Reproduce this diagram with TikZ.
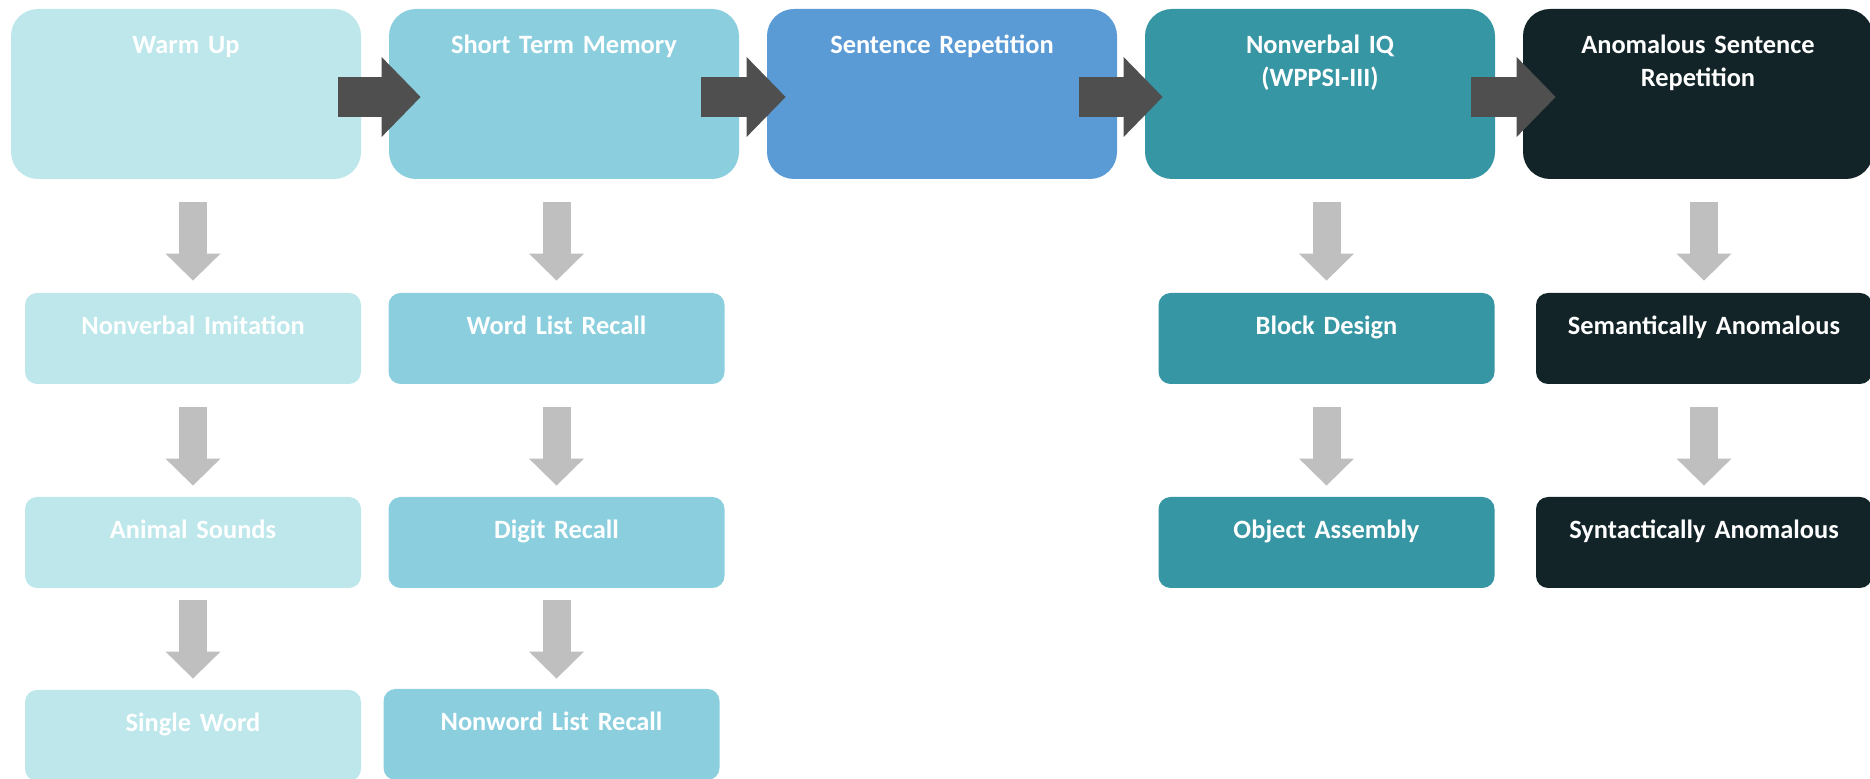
\documentclass[tikz,border=0pt]{standalone}
\usepackage{fontspec}
\setmainfont{Carlito}
\usetikzlibrary{arrows.meta}
\usetikzlibrary{calc}
\definecolor{WarmTint}{HTML}{BDE7EA}
\definecolor{MemoryBlue}{HTML}{8BCFDF}
\definecolor{SentenceBlue}{HTML}{5B9BD5}
\definecolor{IQTeal}{HTML}{3796A3}
\definecolor{AnomDark}{HTML}{122428}
\definecolor{ArrowDark}{HTML}{4F4F4F}
\definecolor{ArrowGrey}{HTML}{BFBFBF}
\tikzset{
  chart style/.style={
    x=0.5pt, y=-0.5pt,
    font=\fontsize{13.2}{16.5}\selectfont\bfseries,
  },
  stage/.style={
    fill=#1, text=white,
    rounded corners=13.5pt,
    inner sep=0pt,
    text width=175pt, align=center,
    text height=22.5pt, text depth=62.5pt,
  },
  task/.style={
    fill=#1, text=white,
    rounded corners=6pt,
    inner sep=0pt,
    text width=168pt, align=center,
    text height=21pt, text depth=24.5pt,
  },
  flow arrow/.style={
    draw=ArrowDark, line width=20pt,
    -{Triangle[length=19.5pt,width=40pt,line width=0pt]},
  },
  step arrow/.style={
    draw=ArrowGrey, line width=14pt,
    -{Triangle[length=13.5pt,width=27.5pt,line width=0pt]},
  },
}

\begin{document}
\begin{tikzpicture}[chart style]
  \useasboundingbox (0,0) rectangle (1870,779);
  % stages
  \node[stage=WarmTint]     (warm) at (186,94)  {Warm Up};
  \node[stage=MemoryBlue]   (stm)  at (564,94)  {Short Term Memory};
  \node[stage=SentenceBlue] (sent) at (942,94)  {Sentence Repetition};
  \node[stage=IQTeal]       (nviq) at (1320,94) {Nonverbal IQ\\(WPPSI-III)};
  \node[stage=AnomDark]     (anom) at (1698,94) {Anomalous Sentence\\Repetition};
  % tasks
  \node[task=WarmTint]   (imit)     at (193,338.5)    {Nonverbal Imitation};
  \node[task=WarmTint]   (animal)   at (193,542.5)    {Animal Sounds};
  \node[task=WarmTint]   (single)   at (193,735.5)    {Single Word};
  \node[task=MemoryBlue] (wordlist) at (556.5,338.5)  {Word List Recall};
  \node[task=MemoryBlue] (digit)    at (556.5,542.5)  {Digit Recall};
  \node[task=MemoryBlue] (nonword)  at (551.5,734.5)  {Nonword List Recall};
  \node[task=IQTeal]     (block)    at (1326.5,338.5) {Block Design};
  \node[task=IQTeal]     (object)   at (1326.5,542.5) {Object Assembly};
  \node[task=AnomDark]   (sem)      at (1704,338.5)   {Semantically Anomalous};
  \node[task=AnomDark]   (syn)      at (1704,542.5)   {Syntactically Anomalous};
  % main flow
  \draw[flow arrow] ($(warm.east)+(-23,3)$) -- ($(stm.west)+(32,3)$);
  \draw[flow arrow] ($(stm.east)+(-38,3)$) -- ($(sent.west)+(19,3)$);
  \draw[flow arrow] ($(sent.east)+(-38,3)$) -- ($(nviq.west)+(18,3)$);
  \draw[flow arrow] ($(nviq.east)+(-24,3)$) -- ($(anom.west)+(33,3)$);
  % steps
  \draw[step arrow] ($(warm.south -| imit)+(0,23)$) -- ($(imit.north)+(0,-12)$);
  \draw[step arrow] ($(imit.south)+(0,23)$) -- ($(animal.north)+(0,-11)$);
  \draw[step arrow] ($(animal.south)+(0,12)$) -- ($(single.north)+(0,-11)$);
  \draw[step arrow] ($(stm.south -| wordlist)+(0,23)$) -- ($(wordlist.north)+(0,-12)$);
  \draw[step arrow] ($(wordlist.south)+(0,23)$) -- ($(digit.north)+(0,-11)$);
  \draw[step arrow] ($(digit.south)+(0,12)$) -- ($(digit.south |- nonword.north)+(0,-10)$);
  \draw[step arrow] ($(nviq.south -| block)+(0,23)$) -- ($(block.north)+(0,-12)$);
  \draw[step arrow] ($(block.south)+(0,23)$) -- ($(object.north)+(0,-11)$);
  \draw[step arrow] ($(anom.south -| sem)+(0,23)$) -- ($(sem.north)+(0,-12)$);
  \draw[step arrow] ($(sem.south)+(0,23)$) -- ($(syn.north)+(0,-11)$);
\end{tikzpicture}
\end{document}
